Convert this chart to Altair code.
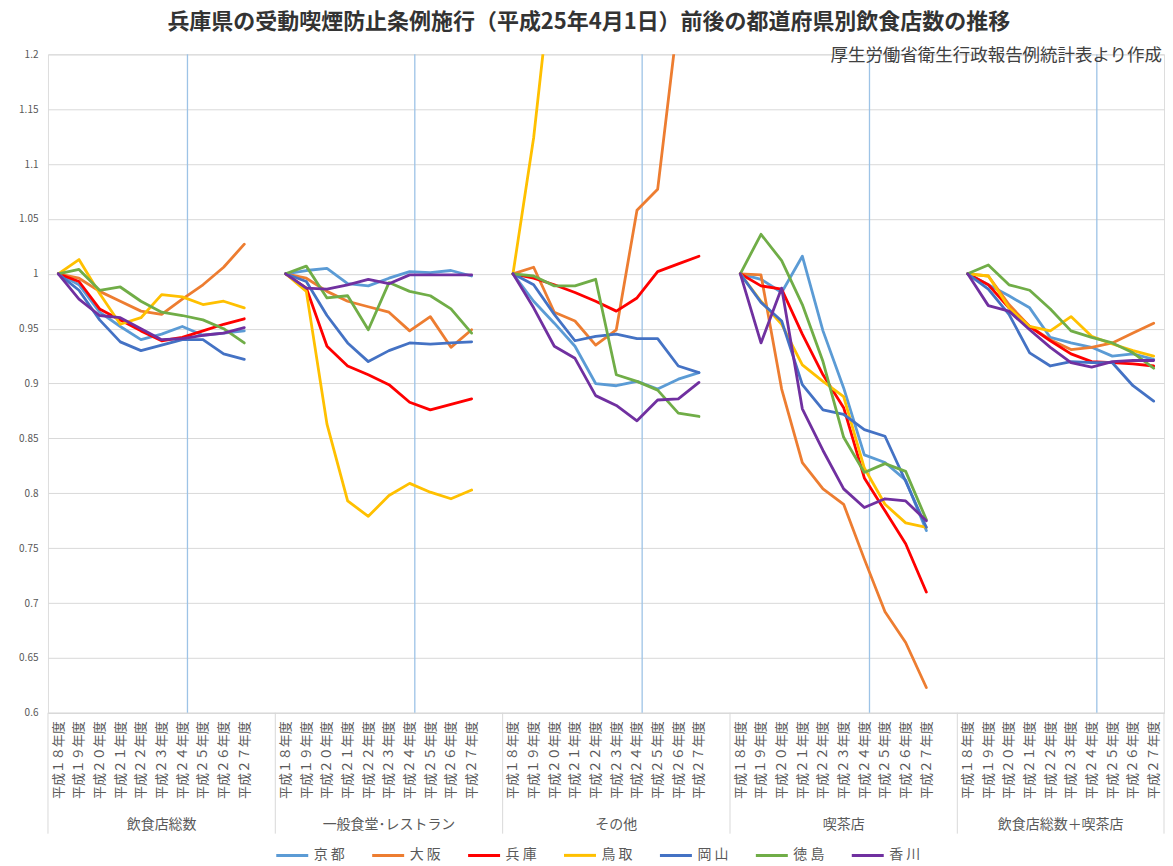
import json
import altair as alt
import pandas as pd

FONT = "Noto Sans CJK JP"

# ---- categories ----
series = ["京 都", "大 阪", "兵 庫", "鳥 取", "岡 山", "徳 島", "香 川"]
colors = ["#5B9BD5", "#ED7D31", "#FF0000", "#FFC000", "#4472C4", "#70AD47", "#7030A0"]
groups = ["飲食店総数", "一般食堂･レストラン", "その他", "喫茶店", "飲食店総数＋喫茶店"]
years = ["平成１８年度", "平成１９年度", "平成２０年度", "平成２１年度", "平成２２年度",
         "平成２３年度", "平成２４年度", "平成２５年度", "平成２６年度", "平成２７年度"]
y_ticks = [0.6, 0.65, 0.7, 0.75, 0.8, 0.85, 0.9, 0.95, 1.0, 1.05, 1.1, 1.15, 1.2]

# ---- values (ratio to 平成18年度), one row per group ----
kyoto = [
    [1.000, 0.990, 0.965, 0.952, 0.940, 0.945, 0.952, 0.944, 0.946, 0.948],
    [1.000, 1.003, 1.005, 0.991, 0.989, 0.996, 1.002, 1.001, 1.003, 0.998],
    [1.000, 0.975, 0.955, 0.934, 0.900, 0.898, 0.902, 0.895, 0.904, 0.910],
    [1.000, 0.995, 0.983, 1.016, 0.948, 0.896, 0.835, 0.828, 0.812, 0.766],
    [1.000, 0.990, 0.980, 0.969, 0.942, 0.937, 0.933, 0.925, 0.927, 0.922],
]
osaka = [
    [1.000, 0.996, 0.984, 0.975, 0.966, 0.963, 0.977, 0.990, 1.006, 1.027],
    [1.000, 0.996, 0.984, 0.975, 0.970, 0.965, 0.948, 0.961, 0.933, 0.949],
    [1.000, 1.006, 0.965, 0.957, 0.935, 0.949, 1.058, 1.077, 1.235, 1.310],
    [1.000, 0.999, 0.895, 0.828, 0.804, 0.790, 0.740, 0.692, 0.664, 0.623],
    [1.000, 0.998, 0.972, 0.952, 0.940, 0.931, 0.933, 0.937, 0.946, 0.955],
]
hyogo = [
    [1.000, 0.993, 0.968, 0.958, 0.948, 0.939, 0.942, 0.948, 0.954, 0.959],
    [1.000, 0.987, 0.934, 0.916, 0.908, 0.899, 0.883, 0.876, 0.881, 0.886],
    [1.000, 0.996, 0.990, 0.983, 0.975, 0.966, 0.978, 1.002, 1.009, 1.016],
    [1.000, 0.989, 0.986, 0.945, 0.908, 0.878, 0.814, 0.784, 0.754, 0.710],
    [1.000, 0.990, 0.969, 0.952, 0.939, 0.927, 0.920, 0.919, 0.918, 0.916],
]
tottori = [
    [1.000, 1.013, 0.982, 0.954, 0.960, 0.981, 0.979, 0.972, 0.975, 0.969],
    [1.000, 0.984, 0.863, 0.793, 0.779, 0.798, 0.809, 0.801, 0.795, 0.803],
    [1.000, 1.124, 1.294, 1.360, 1.390, 1.420, 1.450, 1.470, 1.500, 1.520],
    [1.000, 0.975, 0.954, 0.917, 0.902, 0.888, 0.823, 0.790, 0.773, 0.769],
    [1.000, 0.998, 0.969, 0.952, 0.948, 0.961, 0.943, 0.936, 0.930, 0.925],
]
okayama = [
    [1.000, 0.985, 0.958, 0.938, 0.930, 0.935, 0.940, 0.940, 0.927, 0.922],
    [1.000, 0.993, 0.962, 0.937, 0.920, 0.930, 0.937, 0.936, 0.937, 0.938],
    [1.000, 0.990, 0.963, 0.939, 0.943, 0.945, 0.941, 0.941, 0.916, 0.910],
    [1.000, 0.974, 0.957, 0.899, 0.876, 0.872, 0.858, 0.852, 0.811, 0.769],
    [1.000, 0.986, 0.963, 0.928, 0.916, 0.920, 0.919, 0.919, 0.898, 0.884],
]
tokushima = [
    [1.000, 1.004, 0.985, 0.988, 0.975, 0.965, 0.962, 0.958, 0.950, 0.937],
    [1.000, 1.007, 0.978, 0.980, 0.949, 0.992, 0.984, 0.980, 0.968, 0.946],
    [1.000, 0.998, 0.989, 0.989, 0.995, 0.908, 0.902, 0.894, 0.873, 0.870],
    [1.000, 1.036, 1.012, 0.972, 0.920, 0.851, 0.819, 0.827, 0.820, 0.776],
    [1.000, 1.008, 0.990, 0.985, 0.968, 0.948, 0.942, 0.937, 0.928, 0.914],
]
kagawa = [
    [1.000, 0.977, 0.962, 0.960, 0.950, 0.940, 0.941, 0.944, 0.946, 0.951],
    [1.000, 0.987, 0.986, 0.990, 0.995, 0.991, 0.999, 0.999, 0.999, 0.999],
    [1.000, 0.969, 0.934, 0.923, 0.889, 0.880, 0.866, 0.885, 0.886, 0.901],
    [1.000, 0.937, 0.987, 0.877, 0.839, 0.804, 0.787, 0.795, 0.793, 0.775],
    [1.000, 0.971, 0.966, 0.949, 0.933, 0.919, 0.915, 0.920, 0.921, 0.921],
]
series_values = [kyoto, osaka, hyogo, tottori, okayama, tokushima, kagawa]

title_text = "兵庫県の受動喫煙防止条例施行（平成25年4月1日）前後の都道府県別飲食店数の推移"
source_text = "厚生労働省衛生行政報告例統計表より作成"

# ---- category layout: each group has 10 years + 1 empty slot ----
SLOTS = 11
n_slots = SLOTS * len(groups) - 1
W, H = 1117, 659

rows = []
for s, vals in zip(series, series_values):
    for g, gvals in enumerate(vals):
        for i, v in enumerate(gvals):
            rows.append({"series": s, "group": groups[g], "pos": g * SLOTS + i + 0.5, "value": v})
df = pd.DataFrame(rows)

tick_pos = [g * SLOTS + i + 0.5 for g in range(len(groups)) for i in range(len(years))]
policy_df = pd.DataFrame({"pos": [g * SLOTS + 6.75 for g in range(len(groups))]})
sep_df = pd.DataFrame({"pos": [g * SLOTS for g in range(len(groups))] + [n_slots]})
grp_df = pd.DataFrame({"pos": [g * SLOTS + SLOTS / 2 for g in range(len(groups))], "label": groups})
grp_df.loc[len(groups) - 1, "pos"] = (len(groups) - 1) * SLOTS + (SLOTS - 1) / 2
src_df = pd.DataFrame({"t": [source_text]})

label_expr = json.dumps(years, ensure_ascii=False) + "[floor(datum.value) % " + str(SLOTS) + "]"

xscale = alt.Scale(domain=[0, n_slots], nice=False, zero=False)
xaxis = alt.Axis(values=tick_pos, labelExpr=label_expr, labelAngle=270, labelFontSize=13,
                 labelColor="#595959", labelFont=FONT, labelPadding=8, ticks=False,
                 grid=False, domainColor="#D9D9D9", title=None, labelOverlap=False)
X = alt.X("pos:Q", scale=xscale, axis=xaxis)

policy = alt.Chart(policy_df).mark_rule(color="#9DC3E6", strokeWidth=1.3).encode(x=X)

lines = alt.Chart(df).mark_line(clip=True, strokeWidth=2.8, strokeJoin="round", strokeCap="round").encode(
    x=X,
    y=alt.Y("value:Q", scale=alt.Scale(domain=[0.6, 1.2], nice=False, zero=False),
            axis=alt.Axis(values=y_ticks, format="~g", title=None, ticks=False, domain=False,
                          labelFontSize=10, labelColor="#595959", labelFont=FONT, labelPadding=10,
                          gridColor="#D9D9D9", gridWidth=1, minExtent=35, maxExtent=35)),
    color=alt.Color("series:N", scale=alt.Scale(domain=series, range=colors), sort=series,
                    legend=alt.Legend(title=None, orient="none", direction="horizontal",
                                      legendX=227, legendY=784, symbolType="stroke",
                                      symbolSize=1024, symbolStrokeWidth=3, labelFontSize=14,
                                      labelColor="#595959", labelFont=FONT, columnPadding=20,
                                      labelOffset=4)),
    detail="group:N",
)

seps = alt.Chart(sep_df).mark_rule(color="#D9D9D9", strokeWidth=1).encode(
    x=X, y=alt.value(H), y2=alt.value(H + 121))

grp_labels = alt.Chart(grp_df).mark_text(font=FONT, fontSize=14, color="#595959", baseline="middle").encode(
    x=X, y=alt.value(H + 112), text="label:N")

source = alt.Chart(src_df).mark_text(font=FONT, fontSize=17.5, color="#404040", align="right",
                                     baseline="middle").encode(
    x=alt.value(W - 2), y=alt.value(2), text="t:N")

chart = alt.layer(policy, lines, seps, grp_labels, source).properties(
    width=W, height=H,
    padding={"left": 5, "top": 3, "right": 0, "bottom": 0},
    title=alt.TitleParams(title_text, font=FONT, fontSize=22, fontWeight="bold", color="#333333",
                          anchor="middle", frame="bounds", offset=13),
).configure_view(stroke=None).configure(background="white")

chart.save("out.html", embed_options={"renderer": "svg", "actions": False})
